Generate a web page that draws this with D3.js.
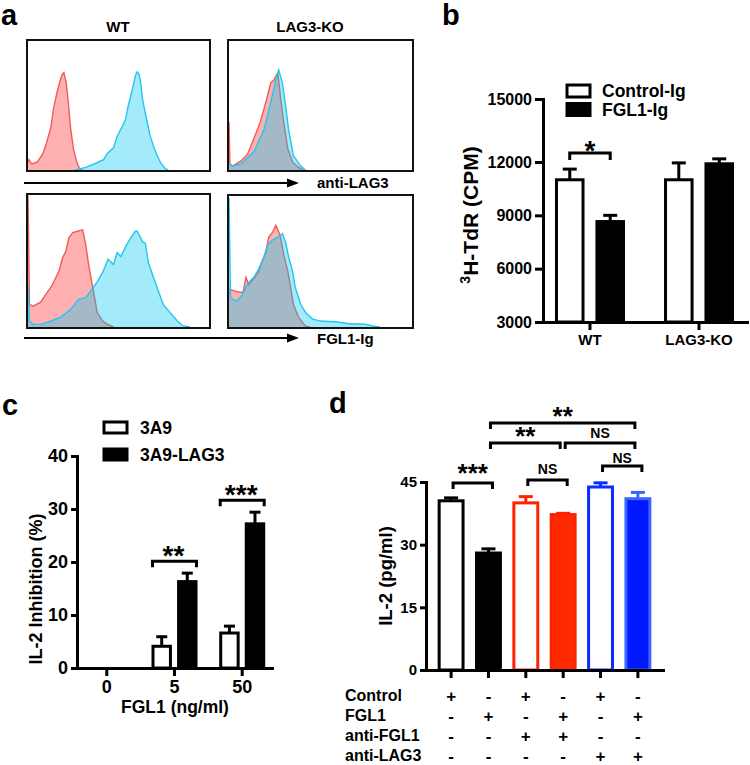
<!DOCTYPE html>
<html><head><meta charset="utf-8">
<script src="https://cdn.jsdelivr.net/npm/d3@7"></script>
<style>
body{margin:0;background:#fff}
svg{display:block;font-family:"Liberation Sans",Arial,Helvetica,sans-serif;font-weight:bold}
</style></head><body>
<svg id="fig" width="750" height="765"></svg>
<script>
// ---------------- Panel a: flow cytometry histograms ----------------
// points: [fluorescence (% of displayed range), events (% of plot height)]
const aColumns = ["WT", "LAG3-KO"];
const aStains = ["anti-LAG3", "FGL1-Ig"];
const aWT_LAG3_red = [[0,6],[0.5,8],[2,4.6],[5,6],[8,12],[10,20],[12.6,33],[14,47],[16,60],[17.5,68],[18.6,73],[19.7,75],[21,67],[22,54],[23.5,31],[25,16],[26.8,6],[28.4,1],[30,0]];
const aWT_LAG3_cyan = [[26,0],[31.7,2],[37,5],[41.5,8],[43.7,13],[47,17],[49,26],[52,34],[53.6,39],[55,49],[57,60],[58,66],[59,72.5],[60,75.6],[61,74],[62,66],[63,54],[65,40],[67,27],[69,18],[71,11],[72.7,6],[75.4,1],[77,0]];
const aKO_LAG3_red = [[0,37],[0.5,4.6],[2,3],[6.5,7],[10,12],[13.5,24],[17,37],[20,52],[22.7,67],[24.3,69],[26.5,75],[28,56],[29.7,37],[32,16],[34.6,6],[37.8,2],[40.5,0]];
const aKO_LAG3_cyan = [[0,5],[2,3],[6.5,4.6],[13.5,14],[19,31],[22.7,52],[25.4,69],[27,77],[29,67],[30.8,49],[32.4,31],[35,11],[39,3],[41.6,0]];
const aWT_FGL1_red = [[0,99],[0.8,17],[2.7,15.7],[7,18.7],[9.8,24.6],[12.6,30],[14.2,34],[17,42],[19,52],[20.8,57],[22.4,67],[24.6,71],[27.3,72],[30,73],[31.7,62],[33.3,47],[35,34],[36.6,22],[38,11],[41,4.5],[43.7,2],[47,0]];
const aWT_FGL1_cyan = [[0,32],[0.8,4.5],[2.7,2],[7,2],[12.6,4.5],[18,7.5],[23.5,13.4],[28,21],[31.7,22],[34.4,27],[38,34],[41,41],[44,51],[47,47],[49,56],[51,53],[53.5,60],[56,66],[59,72],[60,72],[63,64],[64.5,63],[66,49],[69,37],[71.6,27],[74.3,17],[78,11],[82,4.5],[85,1],[89,0]];
const aKO_FGL1_red = [[0,28.6],[3.8,27],[7.6,26],[9.2,37.6],[10.8,32],[13,36],[15.7,41],[17.3,47],[20,57],[21.6,68],[23.8,72],[25.4,77],[26.5,74],[28,68],[29.7,55],[32,42],[33.5,30],[35,17],[37.8,7.5],[41.6,0.7],[44,0]];
const aKO_FGL1_cyan = [[0,98],[0.8,22.5],[3.8,19.5],[6.5,23],[9.2,30],[10.8,34],[13.5,37.6],[16,43.6],[19,53],[21,62],[23.8,66],[26.5,68],[29,70.7],[30.8,64],[32.4,53],[34.6,42],[36,30],[39,17],[41.6,11],[45.4,6],[49.7,4.5],[59,3.8],[65.9,2.3],[73,2.3],[78.4,0.8],[82,0]];

// ---------------- Panel b ----------------
const bGroups = ["WT", "LAG3-KO"];
const bSeries = ["Control-Ig", "FGL1-Ig"];
const bControl = [11000, 11000];
const bControlErr = [600, 950];
const bFGL1 = [8650, 11900];
const bFGL1Err = [350, 250];
const bTicks = [3000, 6000, 9000, 12000, 15000];

// ---------------- Panel c ----------------
const cDoses = ["0", "5", "50"];
const cSeries = ["3A9", "3A9-LAG3"];
const c3A9 = [0, 4.1, 6.6];
const c3A9Err = [0, 1.8, 1.3];
const c3A9LAG3 = [0, 16.3, 27.2];
const c3A9LAG3Err = [0, 1.6, 2.2];
const cTicks = [0, 10, 20, 30, 40];
const cSig = [["5", "**"], ["50", "***"]];

// ---------------- Panel d ----------------
const dBars = ["Control", "FGL1", "Control+anti-FGL1", "FGL1+anti-FGL1", "Control+anti-LAG3", "FGL1+anti-LAG3"];
const dValues = [40.5, 28.0, 40.0, 37.2, 43.8, 41.0];
const dErr = [0.7, 1.0, 1.5, 0.3, 1.0, 1.5];
const dTicks = [0, 15, 30, 45];
const dRows = ["Control", "FGL1", "anti-FGL1", "anti-LAG3"];
const dSigns = [
  ["+", "-", "+", "-", "+", "-"],
  ["-", "+", "-", "+", "-", "+"],
  ["-", "-", "+", "+", "-", "-"],
  ["-", "-", "-", "-", "+", "+"]
];
const dSig = [[0, 1, "***"], [2, 3, "NS"], [4, 5, "NS"], [1, 3, "**"], [3, 5, "NS"], [1, 5, "**"]];

// ====================================================================
const svg = d3.select("#fig");
const BOLD = "bold";

function text(g, x, y, s, size, anchor) {
  return g.append("text").attr("x", x).attr("y", y)
    .attr("font-size", size).attr("font-weight", BOLD)
    .attr("text-anchor", anchor || "start").attr("fill", "#000").text(s);
}
function styleAxis(g, size) {
  g.attr("font-family", null).attr("font-size", size).attr("font-weight", BOLD);
  g.selectAll(".domain").attr("stroke", "#000").attr("stroke-width", 3).attr("stroke-linecap", "square");
  g.selectAll(".tick line").attr("stroke", "#000").attr("stroke-width", 3);
  g.selectAll(".tick text").attr("fill", "#000");
}
function bracket(g, x1, x2, y, drop) {
  g.append("path").attr("d", `M${x1},${y + drop}V${y}H${x2}V${y + drop}`)
    .attr("fill", "none").attr("stroke", "#000").attr("stroke-width", 3);
}

// ---------------- Panel a drawing ----------------
const pa = svg.append("g");
text(pa, 1, 25, "a", 29);
text(pa, 118, 32, aColumns[0], 15, "middle");
text(pa, 310, 32, aColumns[1], 15, "middle");

const hists = [
  {x: 27, y: 40, w: 183, h: 131, red: aWT_LAG3_red, cyan: aWT_LAG3_cyan},
  {x: 228, y: 40, w: 185, h: 131, red: aKO_LAG3_red, cyan: aKO_LAG3_cyan},
  {x: 27, y: 194, w: 183, h: 134, red: aWT_FGL1_red, cyan: aWT_FGL1_cyan},
  {x: 228, y: 195, w: 185, h: 133, red: aKO_FGL1_red, cyan: aKO_FGL1_cyan}
];
hists.forEach((hb, i) => {
  const g = pa.append("g");
  const xs = d3.scaleLinear().domain([0, 100]).range([hb.x + 1, hb.x + hb.w]);
  const ys = d3.scaleLinear().domain([0, 100]).range([hb.y + hb.h - 1, hb.y]);
  const area = d3.area().x(d => xs(d[0])).y0(ys(0)).y1(d => ys(d[1]));
  const line = d3.line().x(d => xs(d[0])).y(d => ys(d[1]));
  g.append("path").attr("d", area(hb.red)).attr("fill", "rgba(255,60,60,0.4)");
  g.append("path").attr("d", line(hb.red)).attr("fill", "none").attr("stroke", "#f25a5a").attr("stroke-width", 1.4);
  g.append("path").attr("d", area(hb.cyan)).attr("fill", "rgba(0,200,240,0.36)");
  g.append("path").attr("d", line(hb.cyan)).attr("fill", "none").attr("stroke", "#22c6ee").attr("stroke-width", 1.4);
  g.append("rect").attr("x", hb.x).attr("y", hb.y).attr("width", hb.w).attr("height", hb.h)
    .attr("fill", "none").attr("stroke", "#111").attr("stroke-width", 2);
});
[[183, aStains[0], 188], [338, aStains[1], 344]].forEach(([y, lab, ty]) => {
  pa.append("line").attr("x1", 24).attr("x2", 290).attr("y1", y).attr("y2", y)
    .attr("stroke", "#000").attr("stroke-width", 2);
  pa.append("path").attr("d", `M287,${y - 4.5}L299,${y}L287,${y + 4.5}Z`).attr("fill", "#000");
  text(pa, 317, ty, lab, 15);
});

// ---------------- Panel b drawing ----------------
const pb = svg.append("g");
text(pb, 442, 25, "b", 29);
const yB = d3.scaleLinear().domain([3000, 12000, 15000]).range([322, 162, 99]);
const xB = d3.scaleBand().domain(bGroups).range([542, 747]).paddingInner(0.5).paddingOuter(0.19);
const xBs = d3.scaleBand().domain(bSeries).range([-35, 35]).paddingInner(0.27);
const bVals = [bControl, bFGL1], bErrs = [bControlErr, bFGL1Err];
bSeries.forEach((s, si) => {
  bGroups.forEach((gname, gi) => {
    const cx = xB(gname) + xB.bandwidth() / 2 + xBs(s);
    const w = xBs.bandwidth();
    const v = bVals[si][gi], e = bErrs[si][gi];
    const xm = cx + w / 2;
    pb.append("line").attr("x1", xm).attr("x2", xm).attr("y1", yB(v)).attr("y2", yB(v + e))
      .attr("stroke", "#000").attr("stroke-width", 3);
    pb.append("line").attr("x1", xm - 7).attr("x2", xm + 7).attr("y1", yB(v + e)).attr("y2", yB(v + e))
      .attr("stroke", "#000").attr("stroke-width", 3);
    pb.append("rect").attr("x", cx + 1.5).attr("y", yB(v)).attr("width", w - 3).attr("height", yB(3000) - yB(v))
      .attr("fill", si === 0 ? "#fff" : "#000").attr("stroke", "#000").attr("stroke-width", 3);
  });
});
const gbx = pb.append("g").attr("transform", "translate(0,322)")
  .call(d3.axisBottom(xB).tickSize(8).tickSizeOuter(0).tickPadding(4));
styleAxis(gbx, 15);
const gby = pb.append("g").attr("transform", "translate(543,0)")
  .call(d3.axisLeft(yB).tickValues(bTicks).tickFormat(d3.format("d")).tickSize(8).tickSizeOuter(0).tickPadding(3));
styleAxis(gby, 16);
// significance
{
  const c0 = xB(bGroups[0]) + xB.bandwidth() / 2;
  bracket(pb, c0 + xBs(bSeries[0]) + xBs.bandwidth() / 2, c0 + xBs(bSeries[1]) + xBs.bandwidth() / 2, 153, 7);
  text(pb, c0, 160, "*", 28, "middle");
}
// legend
bSeries.forEach((s, i) => {
  const y = 85 + i * 18.5;
  pb.append("rect").attr("x", 567).attr("y", y).attr("width", 23).attr("height", 12)
    .attr("fill", i === 0 ? "#fff" : "#000").attr("stroke", "#000").attr("stroke-width", 3);
  text(pb, 602, y + 12, s, 17.5);
});
{
  const t = pb.append("text").attr("transform", "translate(478,215) rotate(-90)")
    .attr("text-anchor", "middle").attr("font-size", 21).attr("font-weight", BOLD);
  t.append("tspan").attr("font-size", 14).attr("baseline-shift", "super").text("3");
  t.append("tspan").text("H-TdR (CPM)");
}

// ---------------- Panel c drawing ----------------
const pc = svg.append("g");
text(pc, 2, 415, "c", 29);
const yC = d3.scaleLinear().domain([0, 40]).range([668, 456]);
const xC = d3.scaleBand().domain(cDoses).range([77, 272]).paddingInner(0.4).paddingOuter(0.14);
const xCs = d3.scaleBand().domain(cSeries).range([-23, 23]).paddingInner(0.2);
const cVals = [c3A9, c3A9LAG3], cErrs = [c3A9Err, c3A9LAG3Err];
cSeries.forEach((s, si) => {
  cDoses.forEach((dname, di) => {
    const v = cVals[si][di], e = cErrs[si][di];
    if (v <= 0) return;
    const cx = xC(dname) + xC.bandwidth() / 2 + xCs(s);
    const w = xCs.bandwidth();
    const xm = cx + w / 2;
    pc.append("line").attr("x1", xm).attr("x2", xm).attr("y1", yC(v)).attr("y2", yC(v + e))
      .attr("stroke", "#000").attr("stroke-width", 3);
    pc.append("line").attr("x1", xm - 5.5).attr("x2", xm + 5.5).attr("y1", yC(v + e)).attr("y2", yC(v + e))
      .attr("stroke", "#000").attr("stroke-width", 3);
    pc.append("rect").attr("x", cx + 1.5).attr("y", yC(v)).attr("width", w - 3).attr("height", yC(0) - yC(v))
      .attr("fill", si === 0 ? "#fff" : "#000").attr("stroke", "#000").attr("stroke-width", 3);
  });
});
const gcx = pc.append("g").attr("transform", "translate(0,668)")
  .call(d3.axisBottom(xC).tickSize(8).tickSizeOuter(0).tickPadding(4));
styleAxis(gcx, 18);
const gcy = pc.append("g").attr("transform", "translate(77,0)")
  .call(d3.axisLeft(yC).tickValues(cTicks).tickSize(6).tickSizeOuter(0).tickPadding(3));
styleAxis(gcy, 18);
text(pc, 175, 713, "FGL1 (ng/ml)", 17.5, "middle");
pc.append("text").attr("transform", "translate(42,589) rotate(-90)").attr("text-anchor", "middle")
  .attr("font-size", 18).attr("font-weight", BOLD).text("IL-2 Inhibition (%)");
cSig.forEach(([dose, lab]) => {
  const c0 = xC(dose) + xC.bandwidth() / 2;
  const di = cDoses.indexOf(dose);
  const top = yC(c3A9LAG3[di] + c3A9LAG3Err[di]) - 12;
  bracket(pc, c0 + xCs(cSeries[0]) + 1, c0 + xCs(cSeries[1]) + xCs.bandwidth() - 1, top, 6);
  text(pc, c0 - 1, top + 4, lab, 28, "middle");
});
cSeries.forEach((s, i) => {
  const y = 422 + i * 27;
  pc.append("rect").attr("x", 104).attr("y", y).attr("width", 23).attr("height", 11)
    .attr("fill", i === 0 ? "#fff" : "#000").attr("stroke", "#000").attr("stroke-width", 3);
  text(pc, 140, y + 12, s, 17.5);
});

// ---------------- Panel d drawing ----------------
const pd = svg.append("g");
text(pd, 329, 413, "d", 29);
const yD = d3.scaleLinear().domain([0, 45]).range([670, 482]);
const xD = d3.scaleBand().domain(dBars).range([426, 663]).paddingInner(0.28).paddingOuter(0.312);
const dStroke = ["#000", "#000", "#ff2200", "#ff2200", "#0a2cff", "#3a64ff"];
const dFill = ["#fff", "#000", "#fff", "#ff2a00", "#fff", "#0019ff"];
dBars.forEach((b, i) => {
  const x = xD(b), w = xD.bandwidth(), v = dValues[i], e = dErr[i];
  const xm = x + w / 2;
  pd.append("line").attr("x1", xm).attr("x2", xm).attr("y1", yD(v)).attr("y2", yD(v + e))
    .attr("stroke", dStroke[i]).attr("stroke-width", 3);
  pd.append("line").attr("x1", xm - 7).attr("x2", xm + 7).attr("y1", yD(v + e)).attr("y2", yD(v + e))
    .attr("stroke", dStroke[i]).attr("stroke-width", 3);
  pd.append("rect").attr("x", x + 1.5).attr("y", yD(v)).attr("width", w - 3).attr("height", yD(0) - yD(v))
    .attr("fill", dFill[i]).attr("stroke", dStroke[i]).attr("stroke-width", 3);
});
const gdx = pd.append("g").attr("transform", "translate(0,670)")
  .call(d3.axisBottom(xD).tickSize(8).tickSizeOuter(0).tickFormat(""));
styleAxis(gdx, 15);
const gdy = pd.append("g").attr("transform", "translate(426,0)")
  .call(d3.axisLeft(yD).tickValues(dTicks).tickSize(6).tickSizeOuter(0).tickPadding(3));
styleAxis(gdy, 15);
pd.append("text").attr("transform", "translate(392,576) rotate(-90)").attr("text-anchor", "middle")
  .attr("font-size", 18.5).attr("font-weight", BOLD).text("IL-2 (pg/ml)");
// significance brackets: [bracket y, label baseline y]
const dSigLayout = [[483, 482], [480, 474], [466, 463], [443, 445], [443, 438], [423, 425]];
dSig.forEach(([i, j, lab], k) => {
  const x1 = xD(dBars[i]) + xD.bandwidth() / 2 + 2, x2 = xD(dBars[j]) + xD.bandwidth() / 2 + (j - i > 1 ? -3 : 4);
  const [ly, ty] = dSigLayout[k];
  bracket(pd, x1, x2, ly, 6);
  text(pd, (x1 + x2) / 2, ty, lab, lab === "NS" ? 14 : 26, "middle");
});
// condition table
dRows.forEach((r, ri) => {
  const y = 701 + ri * 20;
  text(pd, 345, y, r, 16);
  dBars.forEach((b, bi) => {
    text(pd, xD(b) + xD.bandwidth() / 2, y + 1, dSigns[ri][bi], 17, "middle");
  });
});
</script></body></html>
